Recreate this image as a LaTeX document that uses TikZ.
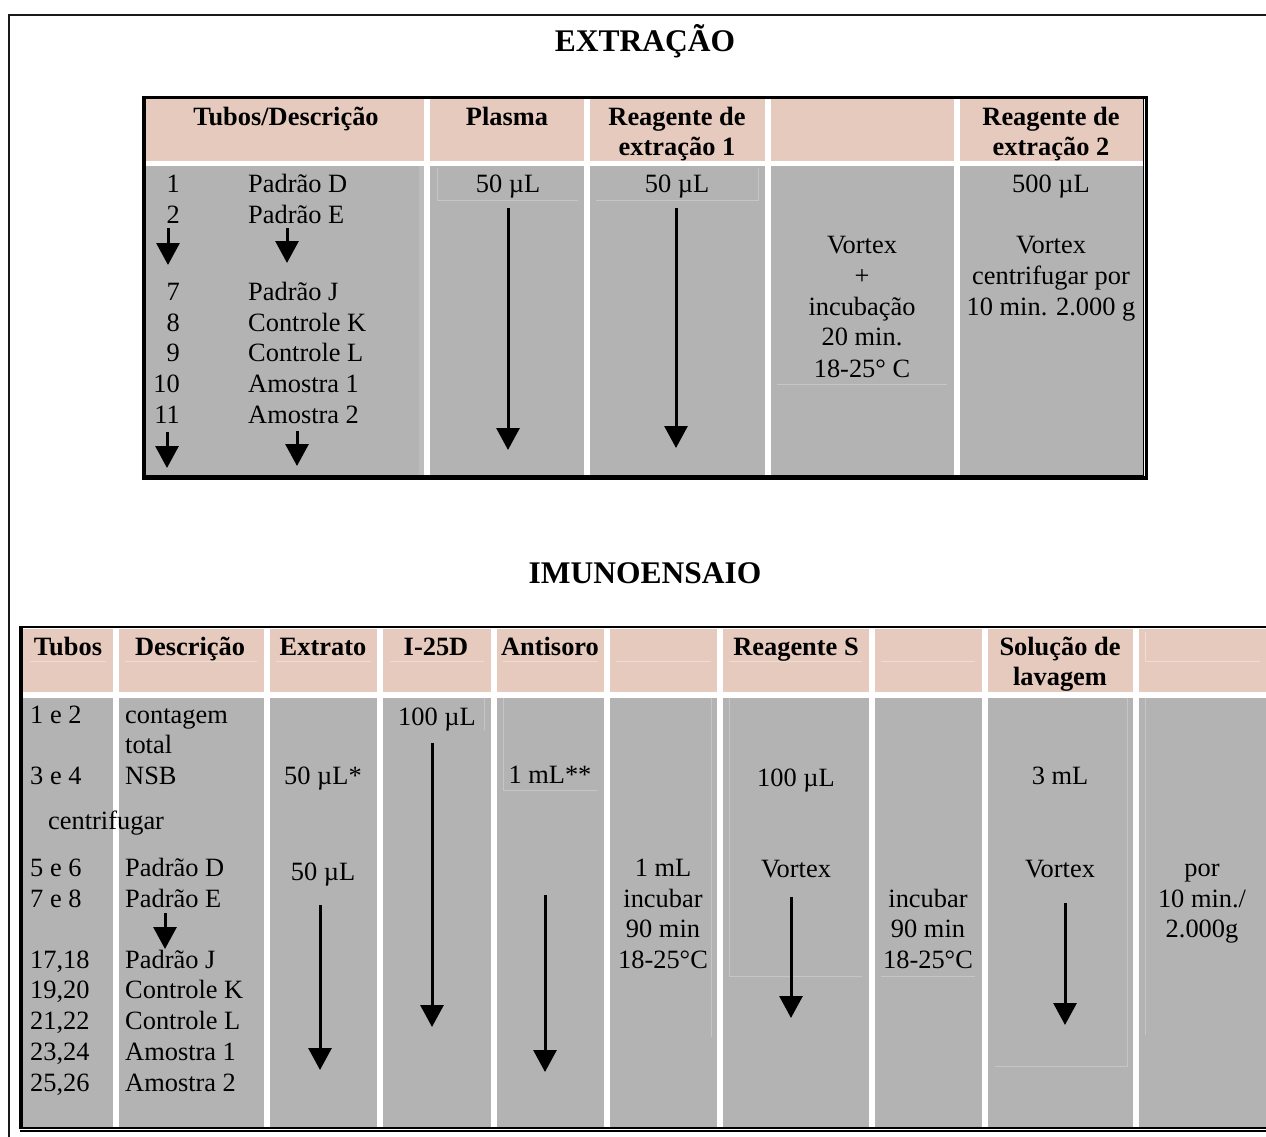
\documentclass[tikz,border=0pt]{standalone}
\usepackage{fontspec}
\setmainfont{Liberation Serif}
\usetikzlibrary{arrows.meta}
\definecolor{pinkc}{HTML}{E5CABD}
\definecolor{grayc}{HTML}{B3B3B3}
\definecolor{faint}{HTML}{C6C6C6}
\begin{document}
\begin{tikzpicture}[x=1pt,y=-1pt,
  txt/.style={inner sep=0pt, anchor=base, font=\fontsize{26.4}{30.5}\selectfont, text=black},
  txtl/.style={txt, anchor=base west},
  txtr/.style={txt, anchor=base east},
  hd/.style={txt, font=\fontsize{26.4}{30.5}\selectfont\bfseries},
  ttl/.style={txt, font=\fontsize{31.5}{36}\selectfont\bfseries},
  arr/.style={line width=3pt, -{Triangle[width=23pt,length=22pt]}},
  fl/.style={draw=faint, line width=0.8pt}]
\useasboundingbox (0,0) rectangle (1266,1137);
\clip (0,0) rectangle (1266,1137);
\fill[white] (0,0) rectangle (1266,1137);
% outer frame
\draw[line width=2.6pt, black!90] (9,15) rectangle (1300,1170);

% ================= EXTRACAO =================
\node[ttl] (t1) at (645,52) {EXTRAÇÃO};
\foreach \a/\b in {146/424, 430/584, 590/765, 771/954, 960/1143}{
  \fill[pinkc] (\a,99) rectangle (\b,161);
  \fill[grayc] (\a,166) rectangle (\b,475);
}
\fill[white!12!grayc] (419,166) rectangle (424,475);
% faint inner lines
\draw[fl] (437,168) -- (437,200) -- (578,200);
\draw[fl] (596,200) -- (758,200) -- (758,168);
\draw[fl] (777,384) -- (947,384);
% borders
\draw[line width=3.5pt] (144,97.5) rectangle (1146.3,478);
\draw[line width=1pt] (1143.5,98) -- (1143.5,475.5) -- (145,475.5);

\node[hd] (h1) at (286,125) {Tubos/Descrição};
\node[hd] (h2) at (507,125) {Plasma};
\node[hd] (h3a) at (677,125) {Reagente de};
\node[hd] (h3b) at (677,156) {extração 1};
\node[hd] (h5a) at (1051,125) {Reagente de};
\node[hd] (h5b) at (1051,156) {extração 2};

\foreach \n/\d/\y [count=\i] in {1/Padrão D/192, 2/Padrão E/223, 7/Padrão J/300, 8/Controle K/331, 9/Controle L/361, 10/Amostra 1/392, 11/Amostra 2/423}{
  \node[txtr] (en\i) at (180,\y) {\n};
  \node[txtl] (ed\i) at (248,\y) {\d};
}
\node[txt] (p1) at (508,192) {50 µL};
\node[txt] (r1) at (677,192) {50 µL};
\node[txt] (v1) at (862,253) {Vortex};
\node[txt] (v2) at (862,284) {+};
\node[txt] (v3) at (862,315) {incubação};
\node[txt] (v4) at (862,345) {20 min.};
\node[txt] (v5) at (862,377) {18-25° C};
\node[txt] (r2a) at (1051,192) {500 µL};
\node[txt] (r2b) at (1051,253) {Vortex};
\node[txt] (r2c) at (1051,284) {centrifugar por};
\node[txt] (r2d) at (1051,315) {10 min. 2.000 g};

\coordinate (ea1) at (168,228); \coordinate (eb1) at (168,265);
\coordinate (ea2) at (287,228); \coordinate (eb2) at (287,263);
\coordinate (ea3) at (167,432); \coordinate (eb3) at (167,468);
\coordinate (ea4) at (297,431); \coordinate (eb4) at (297,466);
\coordinate (ea5) at (508,208); \coordinate (eb5) at (508,450);
\coordinate (ea6) at (676,208); \coordinate (eb6) at (676,448);
\foreach \i in {1,...,6}{\draw[arr] (ea\i) -- (eb\i);}

% ================= IMUNOENSAIO =================
\node[ttl] (t2) at (645,583) {IMUNOENSAIO};
\foreach \a/\b in {23/113, 119/264, 270/377, 383/491, 497/604, 610/717, 723/869, 875/982, 988/1133, 1139/1280}{
  \fill[pinkc] (\a,629) rectangle (\b,692);
  \fill[grayc] (\a,698) rectangle (\b,1127);
}
% faint lines
\foreach \a/\b in {30/106, 125/257, 276/371, 390/484, 503/598, 616/711, 729/862, 881/975, 1145/1260}{
  \draw[fl, draw=white!35!pinkc] (\a,661) -- (\b,661);
}
\draw[fl, draw=white!35!pinkc] (1145,632) -- (1145,661);
\draw[fl] (484,698) -- (484,730);
\draw[fl] (503,698) -- (503,790) -- (598,790);
\draw[fl] (711,698) -- (711,1037);
\draw[fl] (729,698) -- (729,976) -- (862,976);
\draw[fl] (881,976) -- (975,976);
\draw[fl] (995,1066) -- (1127,1066) -- (1127,698);
\draw[fl] (1145,698) -- (1145,1035);
% borders
\draw[line width=2.2pt] (1300,627) -- (21,627) -- (21,1128);
\draw[line width=3.5pt] (21,626) -- (21,1129);
\draw[line width=2pt] (20,1127.8) -- (1300,1127.8);
\draw[line width=2pt] (20,1131) -- (1300,1131);

\node[hd] (b1) at (68,655) {Tubos};
\node[hd] (b2) at (190,655) {Descrição};
\node[hd] (b3) at (323,655) {Extrato};
\node[hd] (b4) at (436,655) {I-25D};
\node[hd] (b5) at (550,655) {Antisoro};
\node[hd] (b7) at (796,655) {Reagente S};
\node[hd] (b9a) at (1060,655) {Solução de};
\node[hd] (b9b) at (1060,685) {lavagem};

\foreach \n/\y [count=\i] in {1 e 2/723, 3 e 4/784, 5 e 6/876, 7 e 8/907, {17,18}/968, {19,20}/998, {21,22}/1029, {23,24}/1060, {25,26}/1091}{
  \node[txtl] (bn\i) at (30,\y) {\n};
}
\node[txtl] (cf) at (48,829) {centrifugar};
\foreach \d/\y [count=\i] in {contagem/723, total/753, NSB/784, Padrão D/876, Padrão E/907, Padrão J/968, Controle K/998, Controle L/1029, Amostra 1/1060, Amostra 2/1091}{
  \node[txtl] (bd\i) at (125,\y) {\d};
}
\node[txt] (x1) at (323,784) {50 µL*};
\node[txt] (x2) at (323,880) {50 µL};
\node[txt] (i1) at (437,725) {100 µL};
\node[txt] (an1) at (550,783) {1 mL**};
\node[txt] (k1) at (663,876) {1 mL};
\node[txt] (k2) at (663,907) {incubar};
\node[txt] (k3) at (663,937) {90 min};
\node[txt] (k4) at (663,968) {18-25°C};
\node[txt] (s1) at (796,786) {100 µL};
\node[txt] (s2) at (796,877) {Vortex};
\node[txt] (m1) at (928,907) {incubar};
\node[txt] (m2) at (928,937) {90 min};
\node[txt] (m3) at (928,968) {18-25°C};
\node[txt] (w1) at (1060,784) {3 mL};
\node[txt] (w2) at (1060,877) {Vortex};
\node[txt] (z1) at (1202,876) {por};
\node[txt] (z2) at (1202,907) {10 min./};
\node[txt] (z3) at (1202,937) {2.000g};

\coordinate (ba1) at (165,913); \coordinate (bb1) at (165,949);
\coordinate (ba2) at (320,905); \coordinate (bb2) at (320,1070);
\coordinate (ba3) at (432,743); \coordinate (bb3) at (432,1027);
\coordinate (ba4) at (545,895); \coordinate (bb4) at (545,1072);
\coordinate (ba5) at (791,897); \coordinate (bb5) at (791,1018);
\coordinate (ba6) at (1065,903); \coordinate (bb6) at (1065,1025);
\foreach \i in {1,...,6}{\draw[arr] (ba\i) -- (bb\i);}
\end{tikzpicture}
\end{document}
